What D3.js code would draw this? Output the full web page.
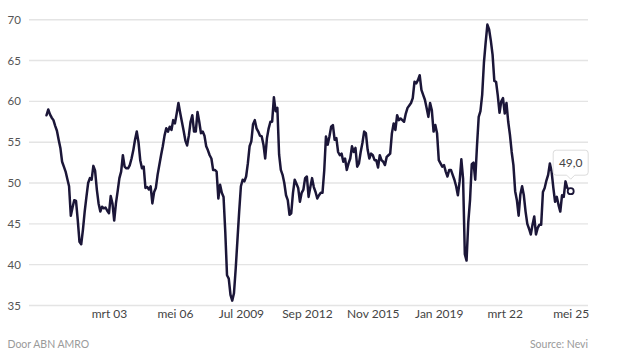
<!DOCTYPE html>
<html>
<head>
<meta charset="utf-8">
<script src="https://cdn.jsdelivr.net/npm/d3@7"></script>
<style>
  html, body { margin: 0; padding: 0; background: #fff; }
  svg { display: block; font-family: Lato, "Open Sans", sans-serif; }
</style>
</head>
<body>
<svg id="chart" width="626" height="359"></svg>
<script>
// ---- data (Nevi PMI, monthly, Mar 2000 – May 2025) ----
const startYear = 2000, startMonth = 3; // March 2000
const values = [
  // 2000 (Mar–Dec)
  58.3, 59.0, 58.4, 58.0, 57.7, 57.0, 56.4, 55.3, 54.3, 52.6,
  // 2001
  52.0, 51.4, 50.5, 49.6, 46.0, 47.0, 47.9, 47.8, 45.5, 42.8, 42.5, 44.3,
  // 2002
  46.5, 48.3, 50.0, 50.6, 50.4, 52.1, 51.5, 49.2, 47.5, 46.5, 47.1, 46.9,
  // 2003
  47.0, 46.6, 46.3, 48.4, 47.5, 45.4, 47.5, 49.0, 50.6, 51.4, 53.4, 52.0,
  // 2004
  51.8, 51.8, 52.2, 53.0, 54.0, 55.3, 56.3, 55.0, 52.8, 51.8, 52.0, 49.4,
  // 2005
  49.5, 49.2, 49.6, 47.5, 48.9, 49.4, 51.0, 52.2, 53.4, 54.5, 55.8, 56.7,
  // 2006
  56.3, 56.9, 56.5, 57.7, 57.3, 58.5, 59.8, 58.6, 57.5, 56.4, 55.2, 54.6,
  // 2007
  55.8, 57.5, 58.3, 56.3, 56.3, 58.7, 57.5, 56.1, 56.3, 55.8, 54.5, 54.0,
  // 2008
  53.4, 53.0, 51.6, 51.6, 51.4, 48.1, 49.8, 48.8, 48.3, 44.0, 38.7, 38.3,
  // 2009
  36.3, 35.6, 36.5, 39.5, 43.0, 46.5, 49.6, 50.4, 50.2, 50.8, 52.4, 54.5,
  // 2010
  55.1, 57.2, 57.7, 56.7, 56.3, 55.8, 55.7, 54.7, 53.0, 55.5, 56.7, 57.5,
  // 2011
  57.5, 60.5, 58.8, 59.2, 53.5, 51.6, 51.0, 50.0, 48.5, 47.9, 46.1, 46.3,
  // 2012
  48.8, 50.4, 49.9, 49.4, 47.7, 48.8, 49.2, 50.6, 50.8, 48.3, 49.5, 50.6,
  // 2013
  49.5, 48.9, 48.1, 48.5, 48.8, 48.8, 51.5, 55.7, 54.7, 55.7, 56.9, 57.1,
  // 2014
  55.3, 55.5, 53.8, 53.4, 53.6, 52.6, 53.0, 51.6, 52.4, 53.0, 54.5, 53.8,
  // 2015
  54.3, 52.0, 52.4, 53.8, 54.9, 56.3, 56.1, 54.1, 53.0, 53.6, 53.4, 52.8,
  // 2016
  52.8, 51.9, 53.4, 52.8, 52.6, 52.2, 53.2, 53.4, 53.6, 56.1, 57.3, 56.5,
  // 2017
  58.3, 57.7, 57.9, 57.7, 57.5, 58.5, 59.2, 59.5, 59.8, 60.4, 62.4, 62.2,
  // 2018
  62.6, 63.2, 61.4, 60.8, 60.2, 59.2, 58.1, 59.8, 58.9, 56.3, 57.1, 56.1,
  // 2019
  52.8, 52.4, 52.0, 52.2, 51.4, 50.8, 51.6, 51.6, 51.0, 50.4, 49.6, 48.5,
  // 2020
  50.2, 52.9, 50.5, 41.3, 40.5, 45.2, 47.9, 52.3, 52.5, 50.4, 54.5, 58.1,
  // 2021
  58.8, 60.8, 64.7, 67.2, 69.4, 68.8, 67.4, 65.7, 62.5, 62.4, 60.7, 58.6,
  // 2022
  60.0, 60.4, 58.5, 59.8, 57.5, 55.9, 53.8, 52.2, 49.0, 47.9, 46.0, 48.6,
  // 2023
  49.6, 48.5, 46.5, 45.0, 44.4, 43.7, 44.9, 45.9, 43.7, 44.5, 44.9, 44.9,
  // 2024
  48.9, 49.4, 50.3, 51.0, 52.4, 51.4, 49.4, 47.7, 48.3, 47.3, 46.5, 48.5,
  // 2025 (Jan–May)
  48.3, 50.2, 49.4, 49.2, 49.0
];
const tickLabels = ["mrt 03", "mei 06", "Jul 2009", "Sep 2012", "Nov 2015", "Jan 2019", "mrt 22", "mei 25"];
const tickMonths = ["2003-03", "2006-05", "2009-07", "2012-09", "2015-11", "2019-01", "2022-03", "2025-05"];
const yTicks = [35, 40, 45, 50, 55, 60, 65, 70];
const lastLabel = "49,0";
const creditText = "Door ABN AMRO";
const sourceText = "Source: Nevi";

// ---- layout ----
const svg = d3.select("#chart");
const gridLeft = 29, gridRight = 588;
const monthIndex = s => { const [y, m] = s.split("-").map(Number); return (y - startYear) * 12 + (m - startMonth); };

const x = d3.scaleLinear().domain([0, values.length - 1]).range([46.5, 570.7]);
const y = d3.scaleLinear().domain([35, 70]).range([305.5, 19.7]);

// gridlines + y labels
const yAxis = svg.append("g").attr("class", "y-axis");
yAxis.selectAll("line").data(yTicks).join("line")
  .attr("x1", gridLeft).attr("x2", gridRight)
  .attr("y1", d => y(d)).attr("y2", d => y(d))
  .attr("stroke", "#e4e4e4").attr("stroke-width", 1.4);
yAxis.selectAll("text").data(yTicks).join("text")
  .attr("x", 7.5).attr("y", d => y(d)).attr("dy", "0.36em")
  .attr("font-size", 11.5).attr("fill", "#555")
  .text(d => d);

// x labels
const xAxis = d3.axisBottom(x)
  .tickValues(tickMonths.map(monthIndex))
  .tickFormat((d, i) => tickLabels[i])
  .tickSize(0).tickPadding(0);
const gx = svg.append("g").attr("transform", "translate(0,306)").call(xAxis);
gx.select(".domain").remove();
gx.selectAll("text").attr("font-family", "Lato, 'Open Sans', sans-serif")
  .attr("font-size", 12).attr("fill", "#444").attr("dy", "12.2");

// line
const line = d3.line().x((d, i) => x(i)).y(d => y(d)).curve(d3.curveLinear);
svg.append("path").datum(values)
  .attr("d", line).attr("fill", "none")
  .attr("stroke", "#1b1638").attr("stroke-width", 2.5)
  .attr("stroke-linejoin", "round").attr("stroke-linecap", "round");

// last point marker + tooltip
const li = values.length - 1;
const px = x(li), py = y(values[li]);
const bw = 35, bh = 25, bx = px - bw / 2, by = py - 16 - bh;
svg.append("path")
  .attr("d", `M${bx + 3},${by} H${bx + bw - 3} Q${bx + bw},${by} ${bx + bw},${by + 3} V${by + bh - 3} Q${bx + bw},${by + bh} ${bx + bw - 3},${by + bh} H${px + 4} L${px},${by + bh + 4} L${px - 4},${by + bh} H${bx + 3} Q${bx},${by + bh} ${bx},${by + bh - 3} V${by + 3} Q${bx},${by} ${bx + 3},${by} Z`)
  .attr("fill", "#fff").attr("stroke", "#dcdcdc").attr("stroke-width", 1);
svg.append("text").attr("x", px).attr("y", by + bh / 2).attr("dy", "0.36em")
  .attr("text-anchor", "middle").attr("font-size", 12).attr("fill", "#444")
  .text(lastLabel);
svg.append("circle").attr("cx", px).attr("cy", py).attr("r", 3)
  .attr("fill", "#fff").attr("stroke", "#1b1638").attr("stroke-width", 1.8);

// footer
svg.append("text").attr("x", 7.5).attr("y", 348).attr("font-size", 10.5).attr("fill", "#9a9a9a").text(creditText);
svg.append("text").attr("x", 588).attr("y", 348).attr("text-anchor", "end").attr("font-size", 10.5).attr("fill", "#9a9a9a").text(sourceText);
</script>
</body>
</html>
